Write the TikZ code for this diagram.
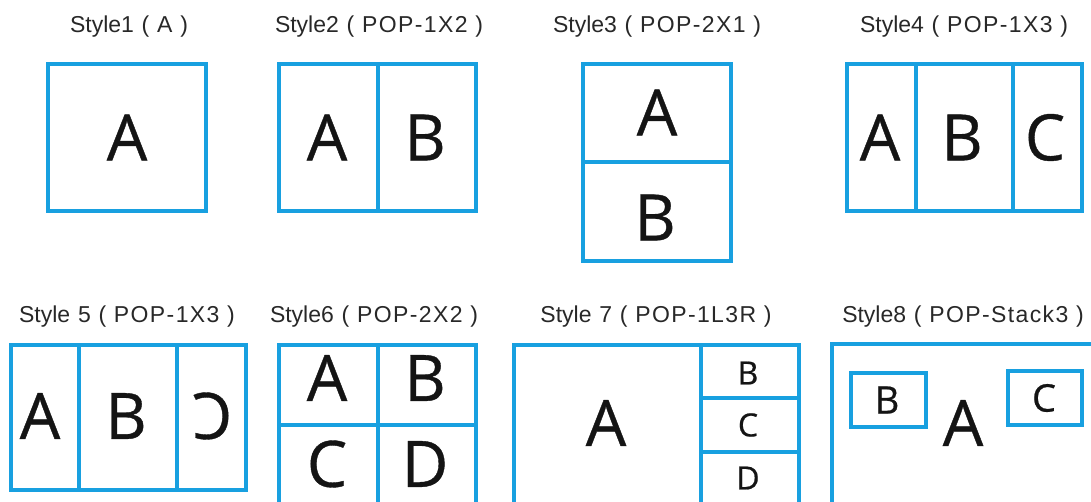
\documentclass[tikz,border=0pt]{standalone}
\usepackage{fontspec}
\setmainfont{Open Sans}
\newfontfamily\letterfont{Open Sans}[FakeBold=0.6]
\newfontfamily\titlefont[LetterSpace=6]{Liberation Sans}
\newfontfamily\stylefont{Liberation Sans}
\definecolor{panelblue}{RGB}{24,160,224}
\definecolor{titlegray}{RGB}{40,40,40}
\definecolor{lettercol}{RGB}{20,20,20}
\newcommand{\styletitle}[1]{{\stylefont Style}{\titlefont #1}}
\tikzset{
  panel/.style={draw=panelblue, line width=3.5pt},
  big/.style={font=\fontsize{64}{64}\selectfont\letterfont, inner sep=0pt, text=lettercol},
  small/.style={font=\fontsize{32}{32}\selectfont\letterfont, inner sep=0pt, text=lettercol},
  mid/.style={font=\fontsize{38}{38}\selectfont\letterfont, inner sep=0pt, text=lettercol},
  title/.style={anchor=base, inner sep=0pt, text=titlegray, font=\fontsize{23}{23}\selectfont}
}
\begin{document}
\begin{tikzpicture}[x=1pt,y=-1pt]
\useasboundingbox (0,0) rectangle (1091,502);
\clip (0,0) rectangle (1091,502);
\fill[white] (0,0) rectangle (1091,502);

% ---------- Row 1 ----------
% Style 1
\node[title] (t1) at (129,33) {\styletitle{1 ( A )}};
\draw[panel] (48,64) rectangle (206,211);
\node[big] (s1a) at (127,137.5) {A};

% Style 2
\node[title] (t2) at (379,33) {\styletitle{2 ( POP-1X2 )}};
\draw[panel] (279,64) rectangle (476,211);
\draw[panel] (378,64) -- (378,211);
\node[big] (s2a) at (327,137.5) {A};
\node[big] (s2b) at (425,137.5) {B};

% Style 3
\node[title] (t3) at (657,33) {\styletitle{3 ( POP-2X1 )}};
\draw[panel] (583,64) rectangle (731,261);
\draw[panel] (583,162) -- (731,162);
\node[big] (s3a) at (657,112.5) {A};
\node[big] (s3b) at (655,217.5) {B};

% Style 4
\node[title] (t4) at (964,33) {\styletitle{4 ( POP-1X3 )}};
\draw[panel] (847,64) rectangle (1082,211);
\draw[panel] (916,64) -- (916,211);
\draw[panel] (1013,64) -- (1013,211);
\node[big] (s4a) at (880,137.5) {A};
\node[big] (s4b) at (962,137.5) {B};
\node[big] (s4c) at (1045,137.5) {C};

% ---------- Row 2 ----------
% Style 5
\node[title] (t5) at (127,322) {\styletitle{ 5 ( POP-1X3 )}};
\draw[panel] (11,345) rectangle (246,490);
\draw[panel] (79,345) -- (79,490);
\draw[panel] (177,345) -- (177,490);
\node[big] (s5a) at (40,416) {A};
\node[big] (s5b) at (126,416) {B};
\node[big] (s5c) at (212,416) {\scalebox{-1}[1]{C}};

% Style 6
\node[title] (t6) at (374,322) {\styletitle{6 ( POP-2X2 )}};
\draw[panel] (279,345) rectangle (476,530);
\draw[panel] (378,345) -- (378,530);
\draw[panel] (279,425) -- (476,425);
\node[big] (s6a) at (327,378) {A};
\node[big] (s6b) at (425,378) {B};
\node[big] (s6c) at (327,464) {C};
\node[big] (s6d) at (425,464) {D};

% Style 7
\node[title] (t7) at (656,322) {\styletitle{ 7 ( POP-1L3R )}};
\draw[panel] (514,345) rectangle (799,530);
\draw[panel] (701,345) -- (701,530);
\draw[panel] (701,398) -- (799,398);
\draw[panel] (701,452) -- (799,452);
\node[big] (s7a) at (606,423) {A};
\node[small] (s7b) at (748,373) {B};
\node[small] (s7c) at (748,425) {C};
\node[small] (s7d) at (748,478) {D};

% Style 8
\node[title] (t8) at (963,322) {\styletitle{8 ( POP-Stack3 )}};
\draw[panel] (832,344) rectangle (1120,530);
\draw[panel] (851,373) rectangle (926,427);
\draw[panel] (1008,371) rectangle (1082,425);
\node[big] (s8a) at (963,423) {A};
\node[mid] (s8b) at (887,400) {B};
\node[mid] (s8c) at (1044,398) {C};
\end{tikzpicture}
\end{document}
